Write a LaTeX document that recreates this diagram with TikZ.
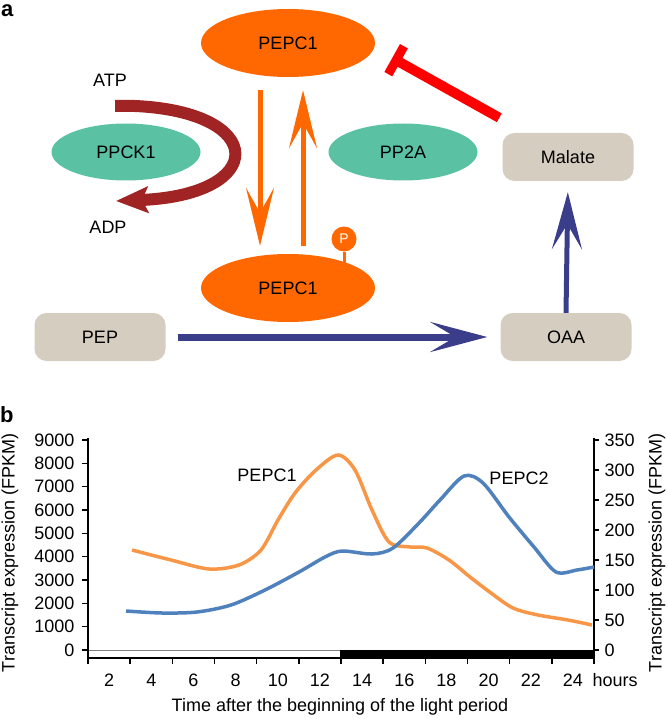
\documentclass[tikz,border=0pt]{standalone}
\usepackage{fontspec}
\setmainfont{Liberation Sans}
\usepackage{tikz}
\usetikzlibrary{shapes.geometric,arrows.meta}
\definecolor{pepcorange}{RGB}{255,104,0}
\definecolor{kingreen}{RGB}{90,194,162}
\definecolor{metabeige}{RGB}{214,205,193}
\definecolor{oaablue}{RGB}{58,62,138}
\definecolor{atpred}{RGB}{160,36,36}
\definecolor{curveorange}{RGB}{247,150,70}
\definecolor{curveblue}{RGB}{79,129,189}
\tikzset{enzyme/.style={ellipse,fill=pepcorange,minimum width=174pt,minimum height=68pt,inner sep=0pt},
kinase/.style={ellipse,fill=kingreen,minimum width=149pt,minimum height=57pt,inner sep=0pt},
metab/.style={rectangle,rounded corners=12pt,fill=metabeige,minimum width=131pt,minimum height=48pt,inner sep=0pt},
flip/.style={pepcorange,line width=5pt,-{Stealth[length=58pt,width=28pt,inset=25pt]}},
carbflow/.style={oaablue,-{Stealth[length=57pt,width=30pt,inset=25pt]}},
inhibit/.style={red,line width=10pt,-{Bar[width=32pt,line width=9pt]}},
panel/.style={font=\bfseries\fontsize{22}{22}\selectfont,anchor=base west,inner sep=0pt}}

\begin{document}
\begin{tikzpicture}[x=1pt,y=-1pt,font=\fontsize{18}{21}\selectfont]
\useasboundingbox (0,0) rectangle (667,719);
\node[panel] (pa) at (1,17) {a};
\node[enzyme] (pepcTop) at (288,43) {PEPC1};
\node[enzyme] (pepcBot) at (288,288) {PEPC1};
\node[kinase] (ppck) at (126,152) {PPCK1};
\node[kinase] (pp2a) at (403,152) {PP2A};
\node[metab] (malate) at (568,157) {Malate};
\node[metab] (pep) at (100,337) {PEP};
\node[metab] (oaa) at (566,337) {OAA};
\node (atp) at (110,80) {ATP};
\node (adp) at (108,227) {ADP};
\node[circle,fill=pepcorange,text=white,minimum size=25pt,inner sep=0pt,font=\fontsize{14}{14}\selectfont] (phos) at (344,239) {P};
\draw[pepcorange,line width=3pt] (phos.south) -- ++(0,13);

\draw[atpred,line width=12pt,-{Stealth[length=32pt,width=26pt,inset=6pt]}] ([shift={(5,26)}]atp.center) -- ++(20,0)
  .. controls (268,112) and (268,195) .. ([shift={(8,-26)}]adp.center);
\draw[flip,shorten <=13pt,shorten >=8pt] ([xshift=-28pt]pepcTop.south) -- ([xshift=-28pt]pepcBot.north);
\draw[flip,shorten <=8pt,shorten >=13pt] ([xshift=15pt]pepcBot.north) -- ([xshift=15pt]pepcTop.south);
\draw[carbflow,line width=7pt,shorten <=12pt,shorten >=13pt] (pep.east) -- (oaa.west);
\draw[carbflow,line width=5pt,shorten >=11pt] (oaa.north) -- (malate.south);
\draw[inhibit] ([shift={(-3,-15)}]malate.north west) -- ([shift={(17,15)}]pepcTop.east);

\node[panel] (pb) at (0,422) {b};
\draw[gray] (88,650) -- (594,650);
\fill (340,650) rectangle (594,658);
\draw[line width=2pt] (88,438) -- (88,658) -- (594,658) -- (594,438);
\foreach \k [evaluate=\k as \val using int(1000*\k)] in {0,...,9}{
\draw[line width=1.5pt] (82,{650-23.33*\k}) -- (88,{650-23.33*\k});
\node[anchor=east] at (78,{650-23.33*\k}) {\val};
}
\foreach \k [evaluate=\k as \val using int(50*\k)] in {0,...,7}{
\draw[line width=1.5pt] (594,{650-30*\k}) -- (599,{650-30*\k});
\node[anchor=west] at (601,{650-30*\k}) {\val};
}
\foreach \k in {0,...,12}{
\draw[line width=1.5pt] ({88+42.17*\k},658) -- ({88+42.17*\k},664);
}
\foreach \h [count=\k from 0] in {2,4,...,24}{
\node at ({88+42.17*(\k+0.5)},680) {\h};
}
\node[anchor=west] (hrs) at (589,680) {hours};
\node (xlab) at (340,707) {Time after the beginning of the light period};
\node[rotate=90] (ylabL) at (10,553) {Transcript expression (FPKM)};
\node[rotate=90] (ylabR) at (657,553) {Transcript expression (FPKM)};

\draw[curveorange,line width=3.5pt] plot[smooth] coordinates {(132,550) (171,560) (209,569) (239,565) (261,550) (278,520) (295,493) (316,470) (338,455) (355,470) (372,510) (389,542) (410,547) (427,548) (449,560) (470,577) (491,593) (513,608) (538,615) (568,620) (592,625)};
\draw[curveblue,line width=3.5pt] plot[smooth] coordinates {(126,611) (162,613) (197,612) (231,605) (265,590) (299,572) (325,557) (342,551) (372,554) (393,548) (419,523) (440,500) (464,476) (483,483) (509,517) (534,547) (556,572) (577,570) (594,567)};
\node (lab1) at (267,475) {PEPC1};
\node (lab2) at (519,478) {PEPC2};
\end{tikzpicture}
\end{document}
